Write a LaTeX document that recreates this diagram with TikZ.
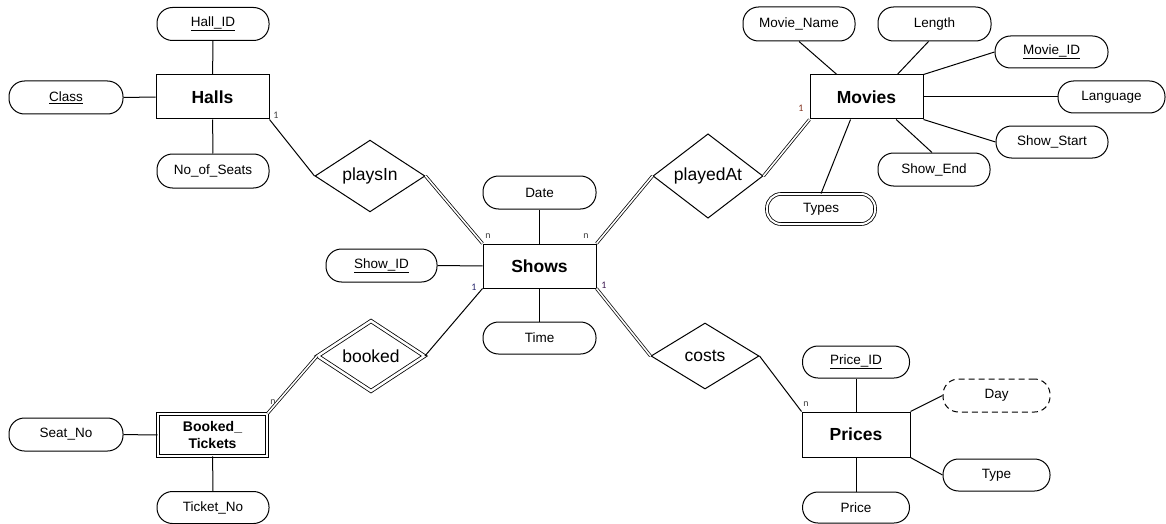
\documentclass[tikz,border=0pt]{standalone}
\usepackage{fontspec}
\setmainfont{Liberation Sans}
\newfontfamily\cardfont{Carlito}
\usetikzlibrary{shapes.geometric,calc}
\begin{document}
\begin{tikzpicture}[x=1pt,y=-1pt,line width=1pt,
  attr/.style={draw, rounded corners=15.5pt, minimum width=112pt, minimum height=33pt, inner sep=0pt, font=\fontsize{13.5}{16}\selectfont},
  mvattr/.style={attr, double, line width=0.8pt, double distance=2pt, minimum width=108pt, minimum height=30pt, rounded corners=14pt},
  dattr/.style={attr, dash pattern=on 6pt off 4pt},
  ent/.style={draw, minimum width=113pt, minimum height=44pt, inner sep=0pt, font=\fontsize{17.5}{20}\selectfont\bfseries},
  went/.style={ent, double, line width=0.8pt, double distance=2.2pt, minimum width=109pt, minimum height=42pt, align=center, font=\fontsize{14}{16.5}\selectfont\bfseries},
  rel/.style={draw, diamond, minimum width=110pt, minimum height=66pt, inner sep=0pt, font=\fontsize{17.5}{20}\selectfont},
  wrel/.style={rel, double, line width=0.8pt, double distance=2.5pt, minimum width=107pt, minimum height=62pt},
  dbl/.style={double, line width=0.75pt, double distance=1.6pt},
  card/.style={inner sep=0pt, font=\cardfont\fontsize{10}{11}\selectfont, text=black!75}
]
\useasboundingbox (0,0) rectangle (1166,524);

% Halls
\node[ent] (halls) at (212.5,97) {Halls};
\node[attr] (hallid) at (213,24) {\underline{Hall\_ID}};
\node[attr, minimum width=114pt] (class) at (66,97.5) {\underline{Class}};
\node[attr, minimum height=34pt] (seats) at (213,171) {No\_of\_Seats};
\draw (halls) -- (hallid);
\draw (halls) -- (class);
\draw (halls) -- (seats);

% Shows
\node[ent] (shows) at (539.5,266) {Shows};
\node[attr, minimum width=113pt] (date) at (539.5,192.5) {Date};
\node[attr, minimum width=111pt] (showid) at (381.5,265.5) {\underline{Show\_ID}};
\node[attr, minimum width=113pt, minimum height=32pt] (time) at (539.5,338) {Time};
\draw (shows) -- (date);
\draw (shows) -- (showid);
\draw (shows) -- (time);

% playsIn
\node[rel] (playsin) at (370,176) {playsIn};
\draw (playsin.west) -- (halls.south east);
\draw[dbl] (playsin.east) -- (shows.north west);

% Booked tickets
\node[wrel] (booked) at (371,356) {booked};
\node[went] (bt) at (212.5,435) {Booked\_\\Tickets};
\node[attr, minimum width=114pt] (seat) at (66,434.5) {Seat\_No};
\node[attr, minimum height=32pt] (ticket) at (213,507.5) {Ticket\_No};
\draw (booked.east) -- (shows.south west);
\draw[dbl] (booked.west) -- (bt.north east);
\draw (bt) -- (seat);
\draw (bt) -- (ticket);

% Movies
\node[ent] (movies) at (866.5,97) {Movies};
\node[attr, minimum height=34pt] (mname) at (799,24) {Movie\_Name};
\node[attr, minimum width=113pt, minimum height=34pt] (length) at (934.5,24) {Length};
\node[attr, minimum width=113pt, minimum height=32pt] (mid) at (1051.5,52) {\underline{Movie\_ID}};
\node[attr, minimum width=107pt, minimum height=32pt] (lang) at (1111.5,97) {Language};
\node[attr, minimum height=32pt] (sstart) at (1052,142) {Show\_Start};
\node[attr] (send) at (934,169.5) {Show\_End};
\node[mvattr] (types) at (821,209) {Types};
\draw (mname.south) -- ($(movies.north west)!0.24!(movies.north east)$);
\draw ($(length.south)+(-6,0)$) -- ($(movies.north west)!0.77!(movies.north east)$);
\draw (mid.west) -- (movies.north east);
\draw (lang.west) -- (movies.east);
\draw (sstart.west) -- (movies.south east);
\draw ($(send.north)+(-2,0)$) -- ($(movies.south west)!0.76!(movies.south east)$);
\draw (types.north) -- ($(movies.south west)!0.36!(movies.south east)$);

% playedAt
\node[rel] (playedat) at (708,176) {playedAt};
\draw[dbl] (playedat.west) -- (shows.north east);
\draw[dbl] (playedat.east) -- (movies.south west);

% Prices
\node[ent, minimum width=108pt, minimum height=45pt] (prices) at (856,434.5) {Prices};
\node[attr, minimum width=107pt, minimum height=32pt] (priceid) at (856,362) {\underline{Price\_ID}};
\node[dattr, minimum width=107pt] (day) at (996.5,395.5) {Day};
\node[attr, minimum width=107pt, minimum height=32pt] (type) at (996.5,475) {Type};
\node[attr, minimum width=107pt, minimum height=31pt] (price) at (856,507.5) {Price};
\draw (prices) -- (priceid);
\draw (day.west) -- (prices.north east);
\draw (type.west) -- (prices.south east);
\draw (prices) -- (price);

% costs
\node[rel, minimum width=108pt] (costs) at (705,356) {costs};
\draw[dbl] (costs.west) -- (shows.south east);
\draw (costs.east) -- (prices.north west);

% cardinalities
\node[card] (c1) at (276,115) {1};
\node[card] (c2) at (488,236) {n};
\node[card] (c3) at (586,236) {n};
\node[card, text={rgb,255:red,40;green,40;blue,110}] (c4) at (474,287) {1};
\node[card, text={rgb,255:red,60;green,25;blue,80}] (c5) at (604,285) {1};
\node[card, text={rgb,255:red,130;green,50;blue,30}] (c6) at (801,108) {1};
\node[card] (c7) at (273,402) {n};
\node[card] (c8) at (806,404) {n};
\end{tikzpicture}
\end{document}
